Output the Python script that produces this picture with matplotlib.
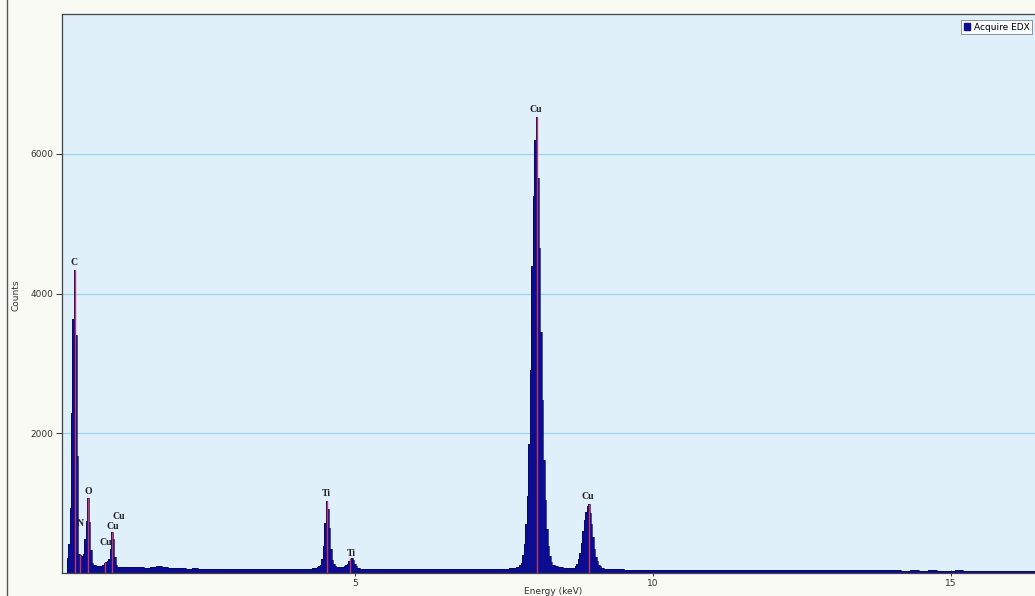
import numpy as np
import matplotlib
matplotlib.use("Agg")
import matplotlib.pyplot as plt
from matplotlib.patches import Patch
from matplotlib.lines import Line2D

# ---- spectrum data: counts per channel, contiguous energy segments (keV) ----
seg_start = [0.16, 1.16, 4.16, 5.26, 7.56, 9.36]
seg_width = [0.025, 0.1, 0.025, 0.1, 0.025, 0.15]

counts_light = [210, 420, 930, 2290, 3640, 4330, 3400, 1670, 270, 255,
                250, 265, 480, 740, 1075, 735, 330, 140, 115, 110,
                105, 100, 105, 100, 120, 150, 155, 165, 200, 340,
                585, 480, 230, 110, 92, 86, 88, 82, 84, 80]
counts_bg1 = [84, 79, 81, 75, 80, 96, 86, 71, 67, 69, 63, 66, 60, 63, 59,
              61, 57, 60, 55, 58, 54, 57, 53, 55, 52, 56, 55, 57, 59, 61]
counts_ti = [58, 62, 60, 64, 62, 66, 68, 72, 80, 94, 118, 200, 380, 710, 1030,
             920, 650, 340, 190, 122, 96, 86, 80, 82, 80, 84, 95, 115, 130,
             165, 190, 210, 180, 130, 95, 78, 68, 62, 60, 58, 60, 56, 58, 55]
counts_bg2 = [56, 54, 57, 55, 53, 56, 54, 52, 55, 53, 56, 54, 57, 55, 53,
              56, 58, 55, 57, 59, 58, 61, 63]
counts_cu = [64, 66, 68, 70, 72, 76, 82, 92, 110, 150, 260, 420, 700, 1100,
             1850, 2900, 4400, 5400, 6200, 6520, 5650, 4650, 3450, 2480, 1620,
             1050, 630, 390, 250, 160, 120,
             108, 100, 95, 90, 86, 80, 76, 74, 70, 68, 70, 67, 72, 78, 95, 130,
             200, 280, 430, 600, 760, 880, 960, 990, 860, 700, 520, 340, 230,
             170, 120, 95, 78, 68, 64, 60, 62, 58, 56, 58, 55]
counts_bg3 = [52, 49, 50, 47, 48, 46, 49, 45, 47, 44, 46, 45, 43, 46, 42,
              44, 43, 41, 44, 40, 42, 41, 39, 42, 38, 40, 39, 37, 40, 36,
              38, 37, 35, 38, 34, 36, 35, 33, 36, 32, 34, 33, 31, 34, 30, 32, 31]

# ---- identified lines ----
line_keV = [0.2975, 0.39, 0.5225, 0.81, 0.9225, 4.5225, 4.9225, 8.0475, 8.9225]
line_top = [4330, 260, 1075, 155, 585, 1030, 210, 6520, 990]

label_text = ["C", "N", "O", "Cu", "Cu", "Cu", "Ti", "Ti", "Cu", "Cu"]
label_keV = [0.29, 0.39, 0.52, 0.82, 0.94, 1.03, 4.52, 4.93, 8.04, 8.91]
label_cnt = [4440, 710, 1170, 430, 660, 810, 1140, 280, 6640, 1100]

x_ticks = [5, 10, 15]
y_ticks = [2000, 4000, 6000]

# ---- build bins ----
all_counts = [counts_light, counts_bg1, counts_ti, counts_bg2, counts_cu, counts_bg3]
edges = []
vals = []
for s, w, c in zip(seg_start, seg_width, all_counts):
    e = s + w * np.arange(len(c))
    edges.extend(e.tolist())
    vals.extend(c)
edges.append(seg_start[-1] + seg_width[-1] * len(counts_bg3))
edges = np.array(edges)
vals = np.array(vals, dtype=float)

W, H = 1035, 596
fig = plt.figure(figsize=(W / 100, H / 100), dpi=100)
fig.patch.set_facecolor("#fafaf4")
ax = fig.add_axes([62 / W, (H - 573) / H, 1 - 62 / W, (573 - 14) / H])
ax.set_facecolor("#dff0fb")

ax.set_xlim(0.084, 16.41)
ax.set_ylim(0, 8000)

for yv in y_ticks:
    ax.axhline(yv, color="#9dd3ef", lw=0.9, zorder=1)

ax.stairs(vals, edges, fill=True, color="#0c0c90", zorder=2)
ax.stairs(vals, edges, color="#08085e", lw=0.5, zorder=2)

ax.vlines(line_keV, 0, line_top, colors="#c0395a", lw=1.0, zorder=3)

for t, xk, yc in zip(label_text, label_keV, label_cnt):
    ax.text(xk, yc, t, ha="center", va="center", fontsize=7,
            fontweight="bold", family="Liberation Serif", color="#222222", zorder=4)

ax.set_xticks(x_ticks)
ax.set_yticks(y_ticks)
ax.tick_params(axis="both", labelsize=6.5, colors="#333333", length=4, width=0.7)
ax.tick_params(axis="x", direction="inout", pad=2)
ax.tick_params(axis="y", direction="out", pad=2)

for side in ["left", "bottom", "top"]:
    ax.spines[side].set_color("#444444")
    ax.spines[side].set_linewidth(0.9)
ax.spines["right"].set_visible(False)

fig.text(16 / W, (H - 295) / H, "Counts", rotation=90, ha="center", va="center",
         fontsize=6.5, color="#333333")
fig.text(553 / W, (H - 591) / H, "Energy (keV)", ha="center", va="center",
         fontsize=6.5, color="#333333")

fig.add_artist(Line2D([6.5 / W, 6.5 / W], [0, 1], transform=fig.transFigure,
                      color="#555555", lw=1.0))

leg = ax.legend(handles=[Patch(facecolor="#0c0c90", edgecolor="#0c0c90", label="Acquire EDX")],
                loc="upper right", bbox_to_anchor=(1032 / W, (H - 20) / H),
                bbox_transform=fig.transFigure, fontsize=6.5, frameon=True,
                fancybox=False, borderpad=0.3, handlelength=0.7, handleheight=0.7,
                handletextpad=0.4, borderaxespad=0)
leg.get_frame().set_edgecolor("#777777")
leg.get_frame().set_linewidth(0.7)
leg.get_frame().set_facecolor("#ffffff")

fig.savefig("out.png", dpi=100, facecolor=fig.get_facecolor())
